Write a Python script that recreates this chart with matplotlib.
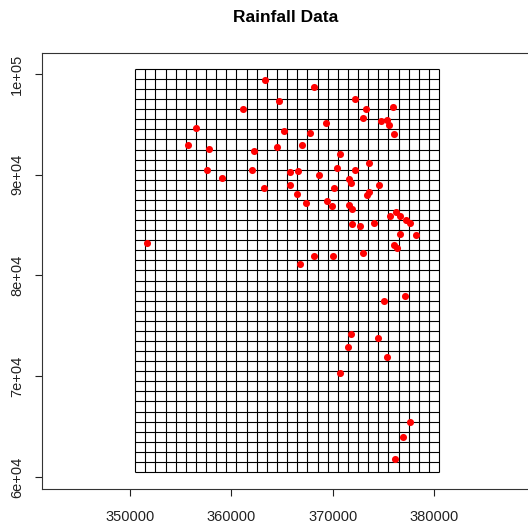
import numpy as np
import matplotlib
matplotlib.use("Agg")
import matplotlib.pyplot as plt
from matplotlib.ticker import FixedLocator, FuncFormatter

plt.rcParams['font.family'] = ['Liberation Sans', 'DejaVu Sans']

# prediction grid: lower-left corner, cell size, number of cells
grid_x0, grid_y0 = 350500, 60500
cellsize = 1000
ncols, nrows = 30, 40

# rain gauge locations (easting, northing)
gauge_x = [363294, 364675, 361152, 356464, 365198, 355724, 357826, 362238, 364478, 357629,
           362070, 359060, 363224, 365790, 365741, 368189, 372205, 375926, 373291, 373024,
           369314, 374801, 375363, 375561, 367794, 376024, 366955, 370755, 373557, 366580,
           370399, 372186, 368672, 371643, 371781, 374544, 370113, 366511, 373567, 373360,
           367389, 369412, 369955, 371564, 371939, 375610, 376202, 376597, 377238, 377633,
           371929, 372728, 374110, 376627, 378245, 376084, 376370, 368110, 370034, 373015,
           366728, 377090, 375038, 371810, 374455, 371485, 375383, 370745, 377653, 376942,
           376183, 351678]
gauge_y = [99406, 97322, 96498, 94642, 94314, 92954, 92587, 92309, 92756, 90423,
           90503, 89679, 88686, 90245, 88954, 98682, 97490, 96756, 96498, 95664,
           95138, 95337, 95436, 94969, 94145, 94046, 92925, 92031, 91138, 90324,
           90671, 90503, 89947, 89530, 89212, 88954, 88686, 88121, 88289, 87942,
           87148, 87396, 86850, 86969, 86572, 85857, 86304, 85937, 85480, 85242,
           85133, 84944, 85212, 84120, 84051, 83048, 82681, 81956, 81936, 82214,
           81142, 77966, 77500, 74224, 73767, 72934, 71941, 70323, 65489, 63941,
           61767, 83227]

x_ticks = [350000, 360000, 370000, 380000]
y_ticks = [60000, 70000, 80000, 90000, 100000]

fig = plt.figure(figsize=(5.28, 5.25), dpi=100)
ax = fig.add_axes([42 / 528, 36 / 525, 490 / 528, 436 / 525])

# grid cells
xs = grid_x0 + cellsize * np.arange(ncols + 1)
ys = grid_y0 + cellsize * np.arange(nrows + 1)
ax.vlines(xs, ys[0], ys[-1], colors='black', linewidth=0.8)
ax.hlines(ys, xs[0], xs[-1], colors='black', linewidth=0.8)

# gauges
ax.scatter(gauge_x, gauge_y, s=26, c='red', linewidths=0, zorder=3)

ax.set_xlim(341306, 389662)
ax.set_ylim(58809, 102084)

ax.xaxis.set_major_locator(FixedLocator(x_ticks))
ax.yaxis.set_major_locator(FixedLocator(y_ticks))
ax.xaxis.set_major_formatter(FuncFormatter(lambda v, p: f"{int(v)}"))
ax.yaxis.set_major_formatter(FuncFormatter(lambda v, p: f"{v:.0e}"))
ax.tick_params(direction='out', length=5, width=0.8, labelsize=10.5, colors='#222222')
ax.tick_params(axis='x', pad=10)
ax.tick_params(axis='y', pad=8)
for lab in ax.get_yticklabels():
    lab.set_rotation(90)
    lab.set_va('center')

for sp in ax.spines.values():
    sp.set_linewidth(0.8)
    sp.set_color('#333333')

fig.text(286 / 528, 1 - 18 / 525, "Rainfall Data", ha='center', va='center',
         fontsize=12.5, fontweight='bold')

fig.savefig("out.png", dpi=100)
